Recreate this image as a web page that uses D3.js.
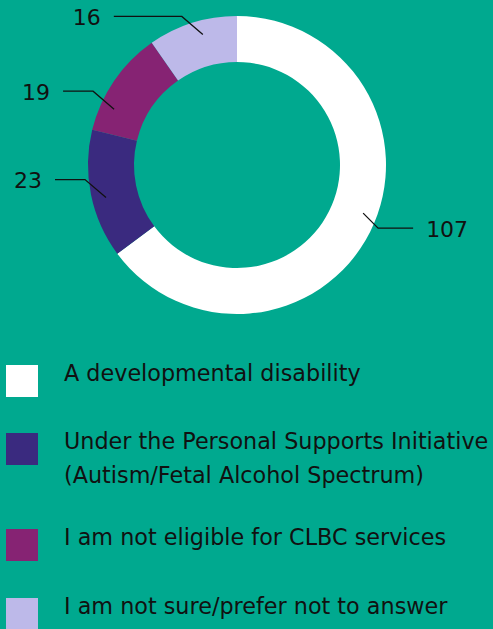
<!DOCTYPE html>
<html><head><meta charset="utf-8">
<script src="https://cdn.jsdelivr.net/npm/d3@7"></script>
<style>html,body{margin:0;padding:0;background:#00A98F;overflow:hidden}</style>
</head><body>
<svg id="c" width="493" height="629"></svg>
<script>
const categories = [
  "A developmental disability",
  "Under the Personal Supports Initiative (Autism/Fetal Alcohol Spectrum)",
  "I am not eligible for CLBC services",
  "I am not sure/prefer not to answer"
];
const legendLines = [
  ["A developmental disability"],
  ["Under the Personal Supports Initiative", "(Autism/Fetal Alcohol Spectrum)"],
  ["I am not eligible for CLBC services"],
  ["I am not sure/prefer not to answer"]
];
const values = [107, 23, 19, 16];
const colors = ["#FFFFFF", "#3A2A7F", "#862373", "#BDB9E9"];

const svg = d3.select("#c");
const font = "'DejaVu Sans', sans-serif";
const cx = 237, cy = 165, R = 149, r0 = 103;

const color = d3.scaleOrdinal().domain(categories).range(colors);
const pie = d3.pie().sort(null).value(d => d.v);
const data = categories.map((c, i) => ({c, v: values[i]}));
const arcs = pie(data);
const arc = d3.arc().innerRadius(r0).outerRadius(R);

const g = svg.append("g").attr("transform", `translate(${cx},${cy})`);
g.selectAll("path").data(arcs).join("path")
  .attr("d", arc).attr("fill", d => color(d.data.c));

// label layout (leader anchor position within slice, horizontal tail length)
const anchorFrac = [0.475, 0.45, 0.26, 0.58];
const tailLen = [35, 30, 30, 68];
const lr = 135;
arcs.forEach((a, i) => {
  const m = a.startAngle + (a.endAngle - a.startAngle) * anchorFrac[i];
  const x = lr * Math.sin(m), y = -lr * Math.cos(m);
  const left = Math.sin(m) < 0;
  const dir = left ? -1 : 1;
  const ex = left ? x - 21 : x + 15;
  const ey = left ? y - 18 : y + 15;
  const endX = ex + dir * tailLen[i];
  g.append("polyline")
    .attr("points", `${x},${y} ${ex},${ey} ${endX},${ey}`)
    .attr("fill", "none").attr("stroke", "#111").attr("stroke-width", 1.3);
  g.append("text")
    .attr("x", endX + dir * 13).attr("y", ey + 8.5)
    .attr("text-anchor", left ? "end" : "start")
    .attr("font-family", font).attr("font-size", 22).attr("fill", "#111")
    .text(a.data.v);
});

// legend
const legY = [365, 433, 529, 598];
const lg = svg.append("g");
categories.forEach((c, i) => {
  lg.append("rect").attr("x", 6).attr("y", legY[i]).attr("width", 32).attr("height", 32)
    .attr("fill", color(c));
  legendLines[i].forEach((t, j) => {
    lg.append("text").attr("x", 64).attr("y", legY[i] + 15.5 + j * 34)
      .attr("font-family", font).attr("font-size", 22.3).attr("fill", "#111")
      .text(t);
  });
});
</script>
</body></html>
